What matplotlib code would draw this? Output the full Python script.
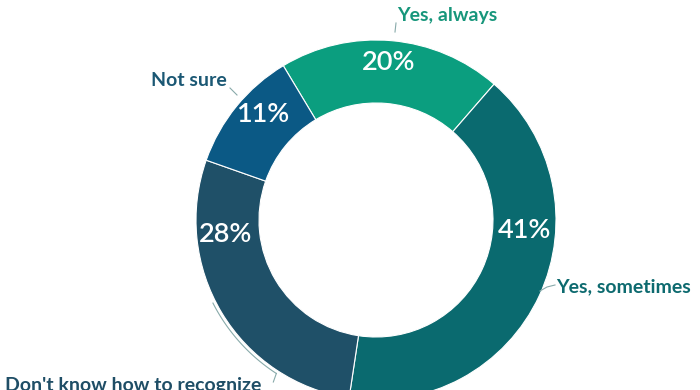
import numpy as np
import matplotlib.pyplot as plt

labels = ["Yes, always", "Yes, sometimes", "Don't know how to recognize", "Not sure"]
values = [20, 41, 28, 11]
colors = ["#0b9e7f", "#0a6a6f", "#1f5068", "#0b5985"]
text_colors = ["#17967b", "#0d6a6f", "#1f4e66", "#1b5874"]

plt.rcParams['font.family'] = ['Lato', 'DejaVu Sans']

W, H = 700, 390
fig = plt.figure(figsize=(7, 3.9), dpi=100)
ax = fig.add_axes([0, 0, 1, 1])

cx, cy = 376, H - 220
r_out, r_in = 180, 117
start = 121

wedges, _ = ax.pie(values, colors=colors, startangle=start, counterclock=False,
                   center=(cx, cy), radius=r_out, frame=True,
                   wedgeprops=dict(width=r_out - r_in, edgecolor='white', linewidth=0.8))
ax.set_xlim(0, W)
ax.set_ylim(0, H)
ax.set_aspect('equal')
ax.axis('off')

def py(y):
    return H - y

# percentages inside the ring (positions)
pct_pos = [(389, 63), (525, 231), (226, 235), (263, 115)]
for (x, y), v in zip(pct_pos, values):
    ax.text(x, py(y), f"{v}%", color='white', fontsize=19.5,
            ha='center', va='center', fontweight='semibold')

lc = '#8aa'
fs = 14
# outside labels with leader lines
ax.plot([395, 396], [py(32), py(23)], color=lc, lw=0.8)
ax.text(397, py(15), labels[0], color=text_colors[0], fontsize=fs,
        ha='left', va='center', fontweight='bold')

ax.plot([540, 547, 555], [py(291), py(287), py(285)], color=lc, lw=0.8)
ax.text(556, py(287), labels[1], color=text_colors[1], fontsize=fs,
        ha='left', va='center', fontweight='bold')

ax.plot([237, 230], [py(95), py(88)], color=lc, lw=0.8)
ax.text(227, py(80), labels[3], color=text_colors[3], fontsize=fs,
        ha='right', va='center', fontweight='bold')

th = np.linspace(np.deg2rad(207), np.deg2rad(237), 40)
ra = r_out + 3
ax.plot(cx + ra * np.cos(th), cy + ra * np.sin(th), color=lc, lw=0.8)
ax.plot([cx + ra * np.cos(th[-1]), cx + ra * np.cos(th[-1]) - 3],
        [cy + ra * np.sin(th[-1]), py(382)], color=lc, lw=0.8)
ax.text(5, py(386), labels[2], color=text_colors[2], fontsize=fs,
        ha='left', va='center', fontweight='bold')

fig.savefig("out.png", dpi=100)
